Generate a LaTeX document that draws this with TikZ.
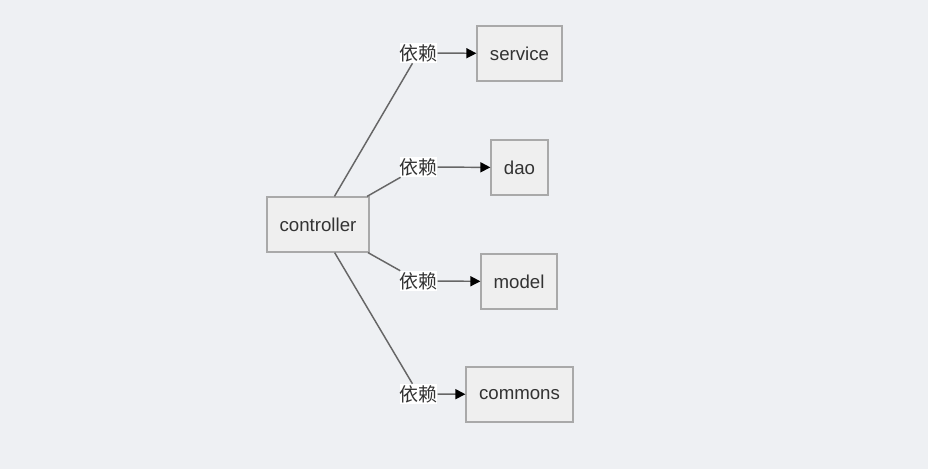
\documentclass[tikz,border=0pt]{standalone}
\usepackage{fontspec}
\setmainfont{Liberation Sans}
\newfontfamily\cjk{Noto Sans CJK SC}
\usetikzlibrary{arrows.meta}
\definecolor{bg}{HTML}{EEF0F3}
\definecolor{boxfill}{HTML}{EFEFEF}
\definecolor{boxdraw}{HTML}{A9A9A9}
\definecolor{txt}{HTML}{333333}
\definecolor{edge}{HTML}{666666}
\begin{document}
\begin{tikzpicture}[x=0.75pt,y=-0.75pt,
  modbox/.style={draw=boxdraw,fill=boxfill,line width=0.9pt,minimum height=41.25pt,inner sep=0pt,text=txt,font=\fontsize{14}{16}\selectfont},
  deplabel/.style={fill=white,inner sep=0pt,minimum height=15pt,text=txt,font=\cjk\fontsize{14.2}{15}\selectfont},
  link/.style={draw=edge,line width=1.1pt},
  arr/.style={link,-{Triangle[length=7.5pt,width=7.5pt,color=black]}}]
\fill[bg] (0,0) rectangle (928,469);
\useasboundingbox (0,0) rectangle (928,469);
\node[modbox,minimum width=76.5pt] (controller) at (318,224.5) {controller};
\node[modbox,minimum width=63.75pt] (service) at (519.5,53.5) {service};
\node[modbox,minimum width=42.75pt] (dao) at (519.5,167.5) {dao};
\node[modbox,minimum width=57pt] (model) at (519,281.5) {model};
\node[modbox,minimum width=80.25pt] (commons) at (519.5,394.5) {commons};
\node[deplabel] (l1) at (418.5,53) {依赖};
\node[deplabel] (l2) at (418.5,167) {依赖};
\node[deplabel] (l3) at (418.5,281) {依赖};
\node[deplabel] (l4) at (418.5,394) {依赖};
\draw[link] (controller) -- (l1);
\draw[link] (controller) -- (l2);
\draw[link] (controller) -- (l3);
\draw[link] (controller) -- (l4);
\draw[arr] (l1) -- (service);
\draw[arr] (l2) -- (dao);
\draw[arr] (l3) -- (model);
\draw[arr] (l4) -- (commons);
\end{tikzpicture}
\end{document}
